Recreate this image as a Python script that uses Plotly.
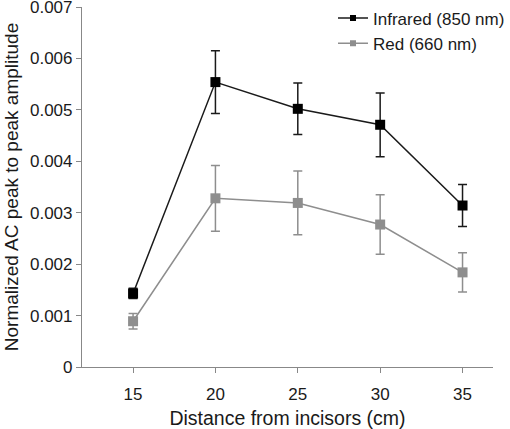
import plotly.graph_objects as go

distance = [15, 20, 25, 30, 35]
infrared = [0.00143, 0.00554, 0.00502, 0.00471, 0.00314]
infrared_err = [0.00010, 0.00061, 0.00050, 0.00062, 0.00041]
red = [0.00089, 0.00328, 0.00319, 0.00277, 0.00184]
red_err = [0.00015, 0.00064, 0.00062, 0.00058, 0.00038]
y_ticks = [0, 0.001, 0.002, 0.003, 0.004, 0.005, 0.006, 0.007]
y_tick_text = ["0", "0.001", "0.002", "0.003", "0.004", "0.005", "0.006", "0.007"]
series_names = ["Infrared (850 nm)", "Red (660 nm)"]

FONT = "Liberation Sans, Arial, sans-serif"
BLACK = "#000000"
GREY = "#8e8e8e"
TEXT = "#1a1a1a"
AXIS = "#888888"

fig = go.Figure()
for yv, err, col, lcol in [(infrared, infrared_err, BLACK, "#1a1a1a"), (red, red_err, GREY, GREY)]:
    fig.add_trace(go.Scatter(
        x=distance, y=yv, mode="lines+markers", showlegend=False,
        line=dict(color=lcol, width=1.5),
        marker=dict(symbol="square", size=10, color=col),
        error_y=dict(type="data", array=err, visible=True, color=lcol, thickness=1.5, width=4.5),
    ))
# legend entries (small markers as in the reference)
for name, col, lcol, grp in [(series_names[0], BLACK, "#1a1a1a", "a"), (series_names[1], GREY, GREY, "b")]:
    fig.add_trace(go.Scatter(
        x=[None], y=[None], mode="lines+markers", name=name,
        line=dict(color=lcol, width=1.5),
        marker=dict(symbol="square", size=6, color=col),
        legendgroup=grp,
    ))

fig.update_layout(
    width=510, height=429, autosize=False,
    margin=dict(l=82, r=17, t=7, b=62, autoexpand=False),
    paper_bgcolor="white", plot_bgcolor="white",
    font=dict(family=FONT, size=17, color=TEXT),
    showlegend=True,
    legend=dict(x=0.6107, y=1.018, xanchor="left", yanchor="top", bgcolor="rgba(0,0,0,0)",
                font=dict(family=FONT, size=17, color=TEXT),
                traceorder="grouped", tracegroupgap=0),
    xaxis=dict(range=[11.9, 36.85], tickvals=distance, ticks="outside", ticklen=5,
               tickcolor=AXIS, showline=True, linecolor=AXIS, linewidth=1.2,
               showgrid=False, zeroline=False, automargin=False, ticklabelstandoff=6,
               title=dict(text="Distance from incisors (cm)", font=dict(family=FONT, size=19.5, color=TEXT), standoff=19),
               tickfont=dict(family=FONT, size=17, color=TEXT)),
    yaxis=dict(range=[0, 0.007], tickvals=y_ticks, ticktext=y_tick_text, ticks="outside", ticklen=5,
               tickcolor=AXIS, showline=True, linecolor=AXIS, linewidth=1.2,
               showgrid=False, zeroline=False, automargin=False, ticklabeloverflow="allow",
               title=dict(text="Normalized AC peak to peak amplitude", font=dict(family=FONT, size=19, color=TEXT), standoff=6),
               tickfont=dict(family=FONT, size=17, color=TEXT)),
)

fig.write_html("out.html", config={"displayModeBar": False, "responsive": False},
               post_script="document.body.style.margin='0px';document.body.style.padding='0px';")
